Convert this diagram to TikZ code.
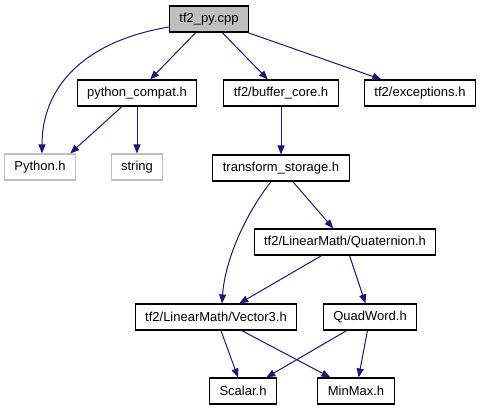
\documentclass[tikz,border=0pt]{standalone}
\usepackage{fontspec}
\setmainfont{Liberation Sans}
\usepackage{tikz}
\usetikzlibrary{arrows.meta}
\usepackage{xcolor}
\definecolor{edgeblue}{HTML}{191970}
\definecolor{boxgray}{HTML}{BFBFBF}

\begin{document}
\begin{tikzpicture}[x=1pt,y=-1pt,>={Triangle[length=9pt,width=7pt]},
  file/.style={draw=black,line width=1.1pt,minimum height=26pt,inner xsep=10pt,font=\fontsize{13}{15}\selectfont},
  sysfile/.style={file,draw=boxgray},
  dep/.style={->,draw=edgeblue,line width=1pt}]
\useasboundingbox (0,0) rectangle (484,411);
\node[file,fill=boxgray] (py) at (209,19) {tf2\_py.cpp};
\node[file] (compat) at (137,93) {python\_compat.h};
\node[file] (core) at (281,93) {tf2/buffer\_core.h};
\node[file] (exc) at (420,93) {tf2/exceptions.h};
\node[sysfile] (python) at (40,167) {Python.h};
\node[sysfile] (string) at (137,167) {string};
\node[file] (storage) at (281,168) {transform\_storage.h};
\node[file] (quat) at (345,242) {tf2/LinearMath/Quaternion.h};
\node[file] (vec) at (216,317) {tf2/LinearMath/Vector3.h};
\node[file] (quad) at (370,317) {QuadWord.h};
\node[file] (scalar) at (243,391) {Scalar.h};
\node[file] (minmax) at (356,391) {MinMax.h};
\draw[dep] ([yshift=-8pt]py.west) .. controls (80,42) and (42,90) .. ([xshift=2pt]python.north);
\draw[dep] (py) -- (compat);
\draw[dep] (py) -- (core);
\draw[dep] (py) -- (exc);
\draw[dep] (compat) -- ([xshift=-6pt]python.north east);
\draw[dep] (compat) -- (string);
\draw[dep] (core) -- (storage);
\draw[dep] ([xshift=-10pt]storage.south) .. controls (245,215) and (225,260) .. ([xshift=6pt]vec.north);
\draw[dep] (storage) -- (quat);
\draw[dep] (quat) -- (vec);
\draw[dep] (quat) -- (quad);
\draw[dep] (vec) -- (scalar);
\draw[dep] (vec) -- (minmax);
\draw[dep] (quad) -- (scalar);
\draw[dep] (quad) -- (minmax);
\end{tikzpicture}
\end{document}
